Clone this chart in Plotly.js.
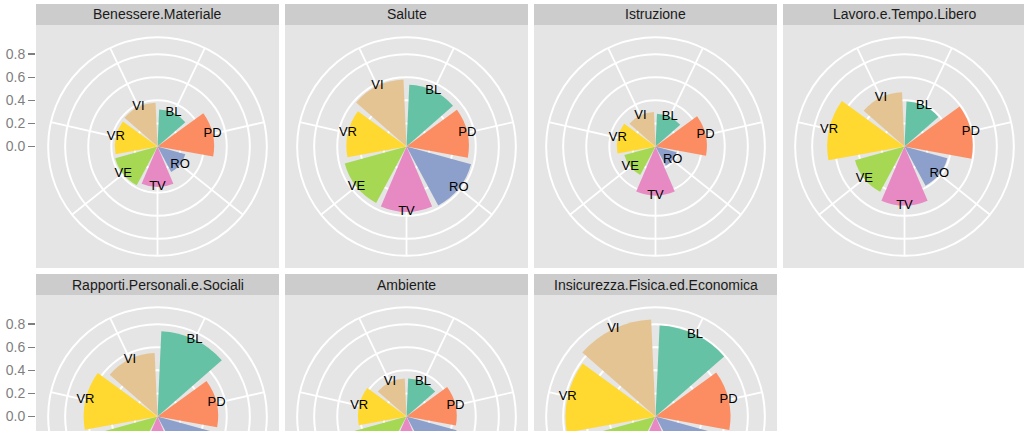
<!DOCTYPE html>
<html>
<head>
<meta charset="utf-8">
<script src="https://cdn.plot.ly/plotly-3.0.1.min.js"></script>
<style>
html, body { margin:0; padding:0; width:1024px; height:431px; overflow:hidden; background:#fff; }
#wrap { width:1024px; height:431px; overflow:hidden; }
#chart { width:1024px; height:545px; }
</style>
</head>
<body>
<div id="wrap"><div id="chart"></div></div>
<script>
// ---- data ----
const provinces = ['BL','PD','RO','TV','VE','VR','VI'];
const provinceColors = ['#66C2A5','#FC8D62','#8DA0CB','#E78AC3','#A6D854','#FFD92F','#E5C494'];
const facets = ['Benessere.Materiale','Salute','Istruzione','Lavoro.e.Tempo.Libero',
                'Rapporti.Personali.e.Sociali','Ambiente','Insicurezza.Fisica.ed.Economica'];
const benessereMateriale = [0.32, 0.49, 0.25, 0.35, 0.38, 0.37, 0.38];
const salute            = [0.535, 0.54, 0.58, 0.565, 0.555, 0.52, 0.58];
const istruzione        = [0.285, 0.445, 0.19, 0.425, 0.28, 0.335, 0.30];
const lavoroTempoLibero = [0.39, 0.59, 0.385, 0.51, 0.445, 0.67, 0.47];
const rapportiPersonali = [0.74, 0.525, 0.48, 0.45, 0.50, 0.64, 0.55];
const ambiente          = [0.33, 0.435, 0.45, 0.40, 0.47, 0.42, 0.33];
const insicurezza       = [0.79, 0.65, 0.50, 0.45, 0.55, 0.78, 0.842];
const radialTicks = [0, 0.2, 0.4, 0.6, 0.8];

const seriesList = [benessereMateriale, salute, istruzione, lavoroTempoLibero,
                    rapportiPersonali, ambiente, insicurezza];

// ---- layout geometry (pixels) ----
const W = 1024, H = 545;
const left = 36, panelSize = 243, gapX = 6;
const rowStripTop = [4, 274], stripH = 21;
const VMAX = 0.842;               // top of radial scale (ggplot r = 0.4)
const RMAX = VMAX * 0.45 / 0.4;   // outer circle (ggplot r = 0.45)
const rPix = 0.45 * panelSize;

const step = 360 / provinces.length;
const thetas = provinces.map((p, i) => (i + 0.5) * step);

const font = '"Liberation Sans", Arial, Helvetica, sans-serif';
const traces = [];
const layout = {
  width: W, height: H,
  margin: {l:0, r:0, t:0, b:0},
  paper_bgcolor: '#FFFFFF',
  plot_bgcolor: 'rgba(0,0,0,0)',
  showlegend: false,
  font: {family: font},
  shapes: [], annotations: []
};

facets.forEach((name, k) => {
  const row = Math.floor(k / 4), col = k % 4;
  const x0 = left + col * (panelSize + gapX), x1 = x0 + panelSize;
  const sTop = rowStripTop[row], pTop = sTop + stripH, pBot = pTop + panelSize;
  const cx = (x0 + x1) / 2, cy = (pTop + pBot) / 2;
  // strip + panel background
  layout.shapes.push({type:'rect', xref:'paper', yref:'paper', layer:'below',
    x0: x0 / W, x1: x1 / W, y0: 1 - pTop / H, y1: 1 - sTop / H,
    fillcolor:'#CCCCCC', line:{width:0}});
  layout.shapes.push({type:'rect', xref:'paper', yref:'paper', layer:'below',
    x0: x0 / W, x1: x1 / W, y0: 1 - pBot / H, y1: 1 - pTop / H,
    fillcolor:'#E5E5E5', line:{width:0}});
  layout.annotations.push({xref:'paper', yref:'paper', x: cx / W, y: 1 - (sTop + stripH / 2) / H,
    text: name, showarrow:false, xanchor:'center', yanchor:'middle',
    font:{size:14, color:'#1A1A1A', family:font}});

  const pid = k === 0 ? 'polar' : 'polar' + (k + 1);
  layout[pid] = {
    domain: {x: [(cx - rPix) / W, (cx + rPix) / W], y: [1 - (cy + rPix) / H, 1 - (cy - rPix) / H]},
    bgcolor: '#E5E5E5',
    hole: 0,
    radialaxis: {range:[0, RMAX], autorange:false, tickmode:'array', tickvals: radialTicks.slice(1),
      showticklabels:false, ticks:'', showline:false, gridcolor:'#FFFFFF', gridwidth:2,
      layer:'below traces'},
    angularaxis: {tickmode:'array', tickvals: thetas, showticklabels:false, ticks:'',
      rotation:90, direction:'clockwise', gridcolor:'#FFFFFF', gridwidth:1.8,
      showline:true, linecolor:'#FFFFFF', linewidth:2, layer:'below traces'}
  };
  const vals = seriesList[k];
  traces.push({type:'barpolar', subplot: pid, r: vals, theta: thetas,
    width: provinces.map(() => step * 0.9),
    marker:{color: provinceColors, line:{width:0}}, hoverinfo:'skip'});
  traces.push({type:'scatterpolar', subplot: pid, r: vals, theta: thetas, mode:'text',
    text: provinces, textposition:'middle center', cliponaxis:false,
    textfont:{size:13, color:'#000000', family:font}, hoverinfo:'skip'});
});

// left radial scale labels (one per row), drawn by cartesian axes
const halfRange = (panelSize / 2) / (0.4 * panelSize) * VMAX;
[0, 1].forEach(row => {
  const pTop = rowStripTop[row] + stripH, pBot = pTop + panelSize;
  const xa = row === 0 ? 'xaxis' : 'xaxis2';
  const ya = row === 0 ? 'yaxis' : 'yaxis2';
  layout[xa] = {domain:[left / W, (left + panelSize) / W], visible:false, range:[0,1],
    anchor: row === 0 ? 'y' : 'y2', fixedrange:true};
  layout[ya] = {domain:[1 - pBot / H, 1 - pTop / H], range:[-halfRange, halfRange],
    anchor: row === 0 ? 'x' : 'x2', tickmode:'array', tickvals: radialTicks,
    ticktext: radialTicks.map(v => v.toFixed(1)),
    ticks:'outside', ticklen:7, tickwidth:1.4, tickcolor:'#7F7F7F',
    tickfont:{size:14, color:'#7F7F7F', family:font},
    showgrid:false, zeroline:false, showline:false, fixedrange:true};
  traces.push({type:'scatter', x:[], y:[], xaxis: row === 0 ? 'x' : 'x2',
    yaxis: row === 0 ? 'y' : 'y2', hoverinfo:'skip', showlegend:false});
});

Plotly.newPlot('chart', traces, layout, {staticPlot:true, displayModeBar:false});
</script>
</body>
</html>
